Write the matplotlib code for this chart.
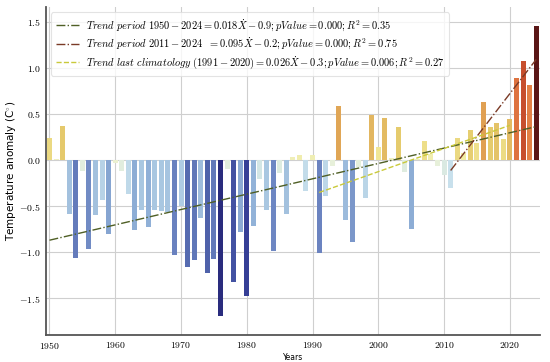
import numpy as np
import matplotlib
matplotlib.use("Agg")
import matplotlib.pyplot as plt
from matplotlib.colors import LinearSegmentedColormap, Normalize
from matplotlib.ticker import FuncFormatter, MultipleLocator

plt.rcParams['mathtext.fontset'] = 'cm'

years = np.arange(1950, 2025)
anomaly = [
    0.24, 0.01, 0.37, -0.59, -1.07, -0.12, -0.97, -0.60, -0.43, -0.80,   # 1950s
    -0.03, -0.12, -0.37, -0.76, -0.54, -0.73, -0.54, -0.55, -0.57, -1.03,  # 1960s
    -0.50, -1.16, -1.09, -0.63, -1.23, -1.08, -1.70, -0.10, -1.33, -0.78,  # 1970s
    -1.48, -0.72, -0.21, -0.54, -0.99, -0.14, -0.59, 0.03, 0.055, -0.34,  # 1980s
    0.05, -1.01, -0.39, -0.06, 0.59, -0.65, -0.89, -0.08, -0.41, 0.485,   # 1990s
    0.14, 0.46, 0.02, 0.36, -0.13, -0.75, 0.01, 0.21, 0.06, -0.06,        # 2000s
    -0.16, -0.30, 0.24, 0.08, 0.33, 0.19, 0.63, 0.36, 0.40, 0.23,         # 2010s
    0.45, 0.89, 1.08, 0.81, 1.46,                                          # 2020s
]
anomaly = np.array(anomaly)

trend_labels = [
    r'$Trend\ period\ 1950-2024 = 0.018\dot{X}-0.9; pValue=0.000; R^2=0.35$',
    r'$Trend\ period\ 2011-2024\ \ = 0.095\dot{X}-0.2; pValue=0.000; R^2=0.75$',
    r'$Trend\ last\ climatology\ (1991-2020) = 0.026\dot{X}-0.3; pValue=0.006; R^2=0.27$',
]
trend_ranges = [(1950, 2024), (2011, 2024), (1991, 2020)]
trend_colors = ['#4f5f25', '#7a3a26', '#c9c93a']
trend_styles = ['-.', '-.', '--']

# colour ramp for the bars (value -> colour)
ramp_vals = [-1.70, -1.45, -1.2, -1.0, -0.75, -0.55, -0.3, -0.05, 0.1, 0.35, 0.6, 0.85, 1.08, 1.46]
ramp_cols = ['#2a2c7e', '#38439a', '#5266ac', '#6d86c2', '#8eaed6', '#a9c7e1', '#c8e0ec',
             '#e9f1d9', '#f3ec9e', '#e5cc6e', '#e0a555', '#e27a44', '#c9502f', '#5a1616']
lo, hi = ramp_vals[0], ramp_vals[-1]
cmap = LinearSegmentedColormap.from_list(
    'anom', [((v - lo) / (hi - lo), c) for v, c in zip(ramp_vals, ramp_cols)])
norm = Normalize(lo, hi)

fig = plt.figure(figsize=(5.5, 3.62), dpi=100)
ax = fig.add_axes([0.084, 0.075, 0.898, 0.905])

ax.bar(years, anomaly, width=0.76, color=cmap(norm(anomaly)), zorder=2)

handles = []
for (y0, y1), lab, col, ls in zip(trend_ranges, trend_labels, trend_colors, trend_styles):
    m = (years >= y0) & (years <= y1)
    p = np.polyfit(years[m], anomaly[m], 1)
    h, = ax.plot(years[m], np.polyval(p, years[m]), ls=ls, color=col, lw=1.0, label=lab, zorder=3)
    handles.append(h)

ax.set_xlim(1949.5, 2024.6)
ax.set_ylim(-1.9, 1.66)
ax.xaxis.set_major_locator(MultipleLocator(10))
ax.yaxis.set_major_locator(MultipleLocator(0.5))
ax.xaxis.set_major_formatter(FuncFormatter(lambda v, _: r'$%d$' % v))
ax.yaxis.set_major_formatter(FuncFormatter(lambda v, _: r'$%.1f$' % v))
ax.tick_params(length=0, labelsize=7, pad=4)
ax.grid(True, color='#cfcfcf', lw=0.8, zorder=0)
ax.set_axisbelow(True)
for s in ['top', 'right']:
    ax.spines[s].set_visible(False)
for s in ['left', 'bottom']:
    ax.spines[s].set_color('#555555')
    ax.spines[s].set_linewidth(1.3)

ax.set_ylabel('Temperature anomaly (C$^{\\circ}$)', fontsize=7.5)
ax.yaxis.set_label_coords(-0.058, 0.5)
ax.set_xlabel('Years', fontsize=5.5)
ax.xaxis.set_label_coords(0.5, -0.056)

leg = ax.legend(handles=handles, loc='upper left', fontsize=7.5, frameon=True,
                handlelength=2.2, handletextpad=0.7, borderpad=0.45, labelspacing=0.25,
                bbox_to_anchor=(0.0, 1.0))
leg.get_frame().set_edgecolor('#dddddd')
leg.get_frame().set_linewidth(0.8)

fig.savefig('out.png', dpi=100)
